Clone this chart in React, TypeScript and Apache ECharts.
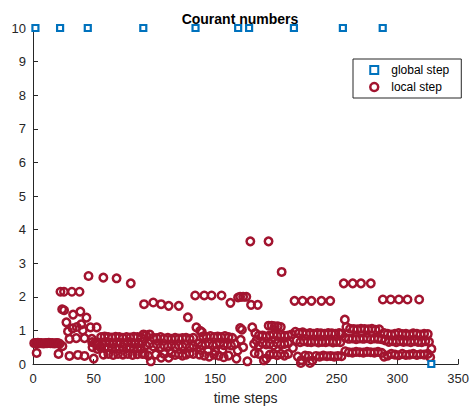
import React, { useEffect, useRef } from "react";
import * as echarts from "echarts";

const xTicks = [0, 50, 100, 150, 200, 250, 300, 350];
const yTicks = [0, 1, 2, 3, 4, 5, 6, 7, 8, 9, 10];

const globalStep: number[][] = [
  [2, 10], [22.3, 10], [45.1, 10], [90.8, 10], [133.8, 10], [168.9, 10],
  [177.9, 10], [214.8, 10], [255.1, 10], [287.9, 10], [327.9, 0],
];

const localA: number[][] = [
  [1, 0.62], [2.5, 0.62], [4, 0.63], [5.5, 0.62], [7, 0.62], [8.5, 0.61], [10, 0.62],
  [11.5, 0.62], [13, 0.63], [14.5, 0.62], [16, 0.62], [17.5, 0.61], [19, 0.62],
  [20.5, 0.62], [22, 0.6], [3, 0.33], [21, 0.3],
];
const localB: number[][] = [
  [22.6, 2.15], [25.5, 2.15], [32, 2.15], [38.3, 2.15],
  [24, 1.63], [25.6, 1.6], [33, 1.47], [39, 1.56], [44, 1.38],
  [27.5, 1.24], [32.6, 1.06], [39.7, 1.18], [47.3, 1.09], [52.4, 1.09],
  [28.8, 0.97], [41, 1.0], [36, 1.1],
  [30, 0.75], [35.6, 0.77], [42.4, 0.77], [48.4, 0.75],
  [30, 0.24], [37, 0.27], [42.4, 0.24], [50, 0.16],
  [24.2, 0.53], [48.7, 0.65], [53, 0.57], [49, 0.5], [55.5, 0.5],
];
const localC: number[][] = [
  [45.7, 2.62], [57.9, 2.57], [68.8, 2.55], [80.5, 2.4],
  [56, 0.8], [59, 0.82], [62, 0.8], [65, 0.79], [68, 0.81], [71, 0.8], [74, 0.78],
  [77, 0.8], [80, 0.79], [83, 0.81], [86, 0.8], [89, 0.79],
  [51, 0.62], [54, 0.64], [57, 0.6], [60, 0.65], [63, 0.63], [66, 0.6], [69, 0.64],
  [72, 0.62], [75, 0.6], [78, 0.65], [81, 0.63], [84, 0.6], [87, 0.62], [90, 0.66],
  [53, 0.45], [56, 0.5], [59, 0.47], [62, 0.5], [65, 0.46], [68, 0.49], [71, 0.45],
  [74, 0.5], [77, 0.47], [80, 0.5], [83, 0.46], [86, 0.48], [89, 0.45],
  [58, 0.28], [62, 0.3], [66, 0.27], [70, 0.3], [74, 0.28], [78, 0.3], [82, 0.27],
  [86, 0.29], [90, 0.3],
];
const localD: number[][] = [
  [91.4, 1.78], [99, 1.83], [105.5, 1.78], [111.7, 1.73], [120, 1.73], [127.5, 1.39],
  [91, 0.88], [93, 0.85], [96, 0.88],
  [99, 0.78], [102, 0.77], [105, 0.8], [108, 0.76], [111, 0.78], [114, 0.75], [117, 0.78],
  [120, 0.76], [123, 0.77], [126, 0.78], [129, 0.75], [132, 0.78],
  [93, 0.55], [96, 0.6], [99, 0.52], [102, 0.58], [105, 0.5], [108, 0.55], [111, 0.52],
  [114, 0.57], [117, 0.5], [120, 0.55], [123, 0.52], [126, 0.58], [129, 0.5], [132, 0.55],
  [92, 0.3], [95, 0.25], [97, 0.08], [101, 0.28], [105.5, 0.19], [108, 0.3], [111.7, 0.19],
  [114, 0.32], [117, 0.27], [120, 0.3], [123, 0.25], [126, 0.28], [129, 0.32], [132, 0.3],
];
const localE: number[][] = [
  [133.5, 2.04], [141, 2.04], [147, 2.04], [155.2, 2.04], [162.5, 1.82],
  [134.5, 1.09], [137.6, 0.99], [139, 0.95],
  [140, 0.82], [143, 0.8], [146, 0.83], [149, 0.8], [152, 0.82], [155, 0.8], [158, 0.83],
  [161, 0.8], [164, 0.78],
  [136, 0.6], [139, 0.55], [142, 0.58], [145, 0.6], [148, 0.55], [151, 0.58], [154, 0.62],
  [157, 0.56], [160, 0.58], [163, 0.55], [166, 0.6],
  [138, 0.42], [144, 0.4], [150, 0.38], [156, 0.42],
  [137, 0.28], [141, 0.25], [145, 0.22], [149, 0.28], [153, 0.25], [157, 0.2], [161, 0.25],
  [167.5, 0.16],
];
const localF: number[][] = [
  [168.8, 1.98], [170.5, 2.0], [173, 2.0], [175.6, 2.0],
  [170.5, 1.07], [172, 1.02], [171, 0.72], [173, 0.5], [168.5, 0.4], [176.5, 0.08],
];
const localG: number[][] = [
  [178.9, 3.65], [193.9, 3.65], [204.7, 2.74], [179.5, 1.76], [185, 1.76],
  [180.5, 1.09], [183, 0.92], [186, 0.85], [184, 0.7],
  [194, 1.14], [196.5, 1.14], [199, 1.12], [201.5, 1.12], [204, 1.1],
  [189, 0.85], [192, 0.82], [195, 0.85], [198, 0.88], [201, 0.84], [204, 0.86], [207, 0.84],
  [210, 0.85], [213, 0.88],
  [182, 0.6], [186, 0.55], [189, 0.62], [192, 0.58], [195, 0.6], [198, 0.55], [201, 0.62],
  [204, 0.58], [207, 0.6], [210, 0.62],
  [182.5, 0.32], [186, 0.3], [190, 0.11], [192, 0.16], [195, 0.28], [198, 0.3], [201, 0.26],
  [204, 0.3], [207, 0.25], [210, 0.3], [214, 0.48],
];
const localH: number[][] = [
  [215.3, 1.88], [221.9, 1.88], [229.2, 1.88], [237.4, 1.88], [244.7, 1.88],
  [216, 0.96], [219, 0.92], [222, 0.94], [225, 0.9], [228, 0.92], [231, 0.9], [234, 0.92],
  [237, 0.91], [240, 0.9], [243, 0.92], [246, 0.91], [249, 0.9], [252, 0.92], [254, 0.9],
  [217, 0.7], [220, 0.65], [223, 0.68], [226, 0.66], [229, 0.65], [232, 0.67], [235, 0.64],
  [238, 0.66], [241, 0.65], [244, 0.67], [247, 0.64], [250, 0.66], [253, 0.65],
  [218, 0.22], [221, 0.12], [224, 0.25], [227, 0.24], [230, 0.1], [233, 0.24], [236, 0.22],
  [239, 0.25], [242, 0.23], [245, 0.24], [248, 0.22], [251, 0.24], [254, 0.23],
  [220.5, 0.03], [228, 0.03],
];
const localI: number[][] = [
  [255.8, 2.4], [263.2, 2.4], [270, 2.4], [278.1, 2.4], [256.7, 1.32],
  [258, 1.1], [261, 1.05], [264, 1.04], [267, 1.03], [270, 1.05], [273, 1.04], [276, 1.03],
  [279, 1.05], [282, 1.02], [285, 1.03],
  [257, 0.78], [260, 0.75], [263, 0.76], [266, 0.74], [269, 0.76], [272, 0.75], [275, 0.77],
  [278, 0.74], [281, 0.76], [284, 0.75], [287, 0.74],
  [257, 0.38], [260, 0.35], [263, 0.34], [266, 0.36], [269, 0.35], [272, 0.34], [275, 0.36],
  [278, 0.35], [281, 0.34], [284, 0.36], [287, 0.33],
];
const localJ: number[][] = [
  [288, 1.92], [294.5, 1.92], [301.2, 1.92], [308.3, 1.92], [317.9, 1.92],
  [289, 0.92], [292, 0.9], [295, 0.88], [298, 0.9], [301, 0.92], [304, 0.89], [307, 0.9],
  [310, 0.88], [313, 0.91], [316, 0.9], [319, 0.88], [322, 0.9], [325, 0.89],
  [290, 0.7], [293, 0.66], [296, 0.68], [299, 0.65], [302, 0.68], [305, 0.66], [308, 0.67],
  [311, 0.65], [314, 0.68], [317, 0.66], [320, 0.65], [323, 0.68], [326, 0.66],
  [289, 0.22], [292, 0.25], [295, 0.3], [298, 0.28], [301, 0.26], [304, 0.3], [307, 0.27],
  [310, 0.28], [313, 0.3], [316, 0.27], [319, 0.29], [322, 0.28], [325, 0.3], [327, 0.2],
  [328, 0.45],
];

const localStep = [
  ...localA, ...localB, ...localC, ...localD, ...localE,
  ...localF, ...localG, ...localH, ...localI, ...localJ,
];

const AX = "#262626";
const FONT = "'Liberation Sans', Arial, Helvetica, sans-serif";

export default function App() {
  const ref = useRef<HTMLDivElement>(null);
  useEffect(() => {
    if (!ref.current) return;
    const chart = echarts.init(ref.current, undefined, { renderer: "svg" });
    chart.setOption({
      animation: false,
      backgroundColor: "#ffffff",
      textStyle: { fontFamily: FONT },
      title: {
        text: "Courant numbers",
        left: 235,
        textAlign: "center",
        top: 7,
        textStyle: { fontFamily: FONT, fontSize: 14, fontWeight: "bold", color: "#000" },
      },
      legend: {
        orient: "vertical",
        left: 353,
        top: 59,
        padding: [5, 12, 5, 16],
        borderColor: AX,
        borderWidth: 1,
        backgroundColor: "#fff",
        itemWidth: 8,
        itemHeight: 8,
        itemGap: 5,
        textStyle: { fontFamily: FONT, fontSize: 12, color: "#000", padding: [0, 0, 0, 8] },
        data: [
          {
            name: "global step",
            icon: "rect",
            itemStyle: { color: "#ffffff", borderColor: "#0072BD", borderWidth: 2 },
          },
          {
            name: "local step",
            icon: "circle",
            itemStyle: { color: "#ffffff", borderColor: "#A2142F", borderWidth: 2.5 },
          },
        ],
      },
      grid: { left: 33, right: 10, top: 28, bottom: 43, containLabel: false },
      xAxis: {
        type: "value",
        min: 0,
        max: 350,
        interval: 50,
        name: "time steps",
        nameLocation: "middle",
        nameGap: 27,
        nameTextStyle: { fontFamily: FONT, fontSize: 14, color: AX },
        axisLine: { show: true, lineStyle: { color: AX, width: 1 } },
        axisTick: { show: true, inside: true, length: 5, lineStyle: { color: AX } },
        axisLabel: {
          fontFamily: FONT, fontSize: 13, color: AX, margin: 8,
          formatter: (v: number) => (xTicks.includes(v) ? String(v) : ""),
        },
        splitLine: { show: false },
      },
      yAxis: {
        type: "value",
        min: 0,
        max: 10,
        interval: 1,
        axisLine: { show: true, lineStyle: { color: AX, width: 1 } },
        axisTick: { show: true, inside: true, length: 5, lineStyle: { color: AX } },
        axisLabel: {
          fontFamily: FONT, fontSize: 13, color: AX, margin: 7,
          formatter: (v: number) => (yTicks.includes(v) ? String(v) : ""),
        },
        splitLine: { show: false },
      },
      series: [
        {
          name: "global step",
          type: "scatter",
          symbol: "rect",
          symbolSize: 6,
          clip: false,
          z: 3,
          itemStyle: { color: "#ffffff", borderColor: "#0072BD", borderWidth: 2.2, opacity: 1 },
          data: globalStep,
        },
        {
          name: "local step",
          type: "scatter",
          symbol: "circle",
          symbolSize: 7.5,
          clip: false,
          z: 2,
          itemStyle: { color: "none", borderColor: "#A2142F", borderWidth: 2.5, opacity: 1 },
          data: localStep,
        },
      ],
    });
    return () => chart.dispose();
  }, []);
  return (
    <div
      ref={ref}
      style={{ position: "fixed", left: 0, top: 0, width: 472, height: 410, background: "#fff" }}
    />
  );
}
